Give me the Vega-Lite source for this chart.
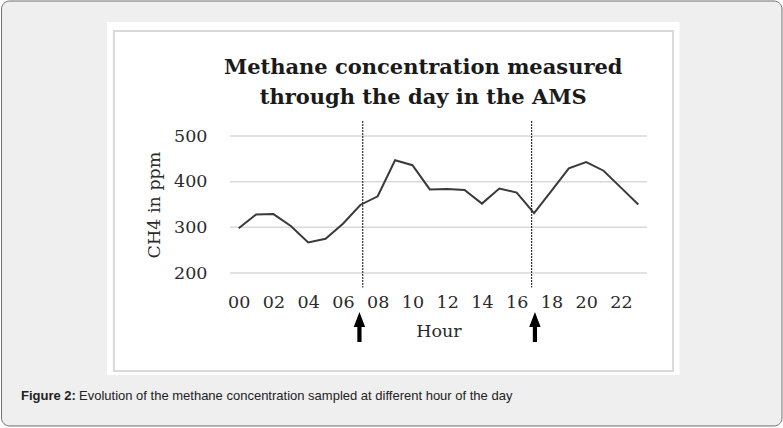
{
  "$schema": "https://vega.github.io/schema/vega-lite/v6.json",
  "description": "Methane concentration measured through the day in the AMS",
  "width": 417,
  "height": 137,
  "autosize": {"type": "none"},
  "padding": {"left": 230, "top": 136, "right": 136, "bottom": 155},
  "background": "white",
  "config": {
    "view": {"stroke": null},
    "axis": {
      "labelOverlap": false, "labelFlush": false,
      "domain": false, "ticks": false, "grid": false,
      "labelFont": "DejaVu Serif", "labelFontSize": 17.5, "labelColor": "#2a2a2a",
      "titleFont": "DejaVu Serif", "titleFontSize": 17.5, "titleFontWeight": "normal", "titleColor": "#2a2a2a"
    },
    "axisX": {"labelPadding": 20, "titlePadding": 12},
    "axisY": {"labelPadding": 23, "titlePadding": 10}
  },
  "datasets": {
    "ch4": [
      {"hour": 0, "ppm": 298}, {"hour": 1, "ppm": 328}, {"hour": 2, "ppm": 329},
      {"hour": 3, "ppm": 303}, {"hour": 4, "ppm": 267}, {"hour": 5, "ppm": 275},
      {"hour": 6, "ppm": 308}, {"hour": 7, "ppm": 349}, {"hour": 8, "ppm": 368},
      {"hour": 9, "ppm": 447}, {"hour": 10, "ppm": 436}, {"hour": 11, "ppm": 383},
      {"hour": 12, "ppm": 384}, {"hour": 13, "ppm": 382}, {"hour": 14, "ppm": 352},
      {"hour": 15, "ppm": 385}, {"hour": 16, "ppm": 376}, {"hour": 17, "ppm": 331},
      {"hour": 18, "ppm": 380}, {"hour": 19, "ppm": 429}, {"hour": 20, "ppm": 443},
      {"hour": 21, "ppm": 424}, {"hour": 22, "ppm": 387}, {"hour": 23, "ppm": 350}
    ],
    "grid": [{"ppm": 200}, {"ppm": 300}, {"ppm": 400}, {"ppm": 500}],
    "events": [
      {"line": 7.14, "arrow": 6.95},
      {"line": 16.86, "arrow": 17.05}
    ]
  },
  "layer": [
    {
      "data": {"values": [{}]},
      "mark": {"type": "rect", "fill": "#efefef", "stroke": "#707070", "strokeWidth": 1, "cornerRadius": 8},
      "encoding": {
        "x": {"datum": -13.65, "type": "quantitative"},
        "x2": {"datum": 31.27},
        "y": {"datum": 795.6, "type": "quantitative"},
        "y2": {"datum": -135}
      }
    },
    {
      "data": {"values": [{}]},
      "mark": {"type": "rect", "fill": "white"},
      "encoding": {
        "x": {"datum": -7.58, "type": "quantitative"},
        "x2": {"datum": 25.37},
        "y": {"datum": 749.6, "type": "quantitative"},
        "y2": {"datum": -23.4}
      }
    },
    {
      "data": {"values": [{}]},
      "mark": {"type": "rect", "fill": "white", "fillOpacity": 0, "stroke": "#d9d9d9", "strokeWidth": 2},
      "encoding": {
        "x": {"datum": -7.18, "type": "quantitative"},
        "x2": {"datum": 25.0},
        "y": {"datum": 729.9, "type": "quantitative"},
        "y2": {"datum": -14.6}
      }
    },
    {
      "data": {"name": "grid"},
      "mark": {"type": "rule", "stroke": "#d9d9d9", "strokeWidth": 1.5},
      "encoding": {
        "x": {"datum": -0.5, "type": "quantitative"},
        "x2": {"datum": 23.5},
        "y": {"field": "ppm", "type": "quantitative"}
      }
    },
    {
      "data": {"name": "ch4"},
      "mark": {"type": "line", "stroke": "#3a3a3a", "strokeWidth": 2},
      "encoding": {
        "x": {
          "field": "hour", "type": "quantitative",
          "scale": {"domain": [-0.5, 23.5], "nice": false, "zero": false},
          "axis": {
            "title": "Hour", "values": [0, 2, 4, 6, 8, 10, 12, 14, 16, 18, 20, 22],
            "labelExpr": "datum.value < 10 ? '0' + datum.value : '' + datum.value",
            "labelOverlap": false, "labelSeparation": 0, "tickCount": 12, "zindex": 1
          }
        },
        "y": {
          "field": "ppm", "type": "quantitative",
          "scale": {"domain": [200, 500], "nice": false, "zero": false},
          "axis": {"title": "CH4 in ppm", "values": [200, 300, 400, 500], "labelOverlap": false, "zindex": 1}
        }
      }
    },
    {
      "data": {"name": "events"},
      "mark": {"type": "rule", "stroke": "#222222", "strokeWidth": 1.1, "strokeDash": [2, 1]},
      "encoding": {
        "x": {"field": "line", "type": "quantitative"},
        "y": {"datum": 533, "type": "quantitative"},
        "y2": {"datum": 168}
      }
    },
    {
      "data": {"name": "events"},
      "mark": {
        "type": "point", "filled": true, "opacity": 1, "color": "black", "size": 900,
        "shape": "M0,-1L0.38,0L0.14,0L0.14,1L-0.14,1L-0.14,0L-0.38,0Z"
      },
      "encoding": {
        "x": {"field": "arrow", "type": "quantitative"},
        "y": {"datum": 81.8, "type": "quantitative"}
      }
    },
    {
      "data": {"values": [{}]},
      "mark": {
        "type": "text", "text": ["Methane concentration measured", "through the day in the AMS"],
        "align": "center", "baseline": "alphabetic", "lineHeight": 29.5,
        "font": "DejaVu Serif", "fontSize": 21, "fontWeight": "bold", "color": "#1a1a1a"
      },
      "encoding": {
        "x": {"datum": 10.62, "type": "quantitative"},
        "y": {"datum": 635.1, "type": "quantitative"}
      }
    },
    {
      "data": {"values": [{}]},
      "mark": {"type": "text", "text": "Figure 2:", "align": "left", "baseline": "alphabetic", "font": "Liberation Sans", "fontSize": 13, "fontWeight": "bold", "color": "#222222"},
      "encoding": {
        "x": {"datum": -12.53, "type": "quantitative"},
        "y": {"datum": -78.1, "type": "quantitative"}
      }
    },
    {
      "data": {"values": [{}]},
      "mark": {"type": "text", "text": "Evolution of the methane concentration sampled at different hour of the day", "align": "left", "baseline": "alphabetic", "font": "Liberation Sans", "fontSize": 13, "color": "#222222"},
      "encoding": {
        "x": {"datum": -9.19, "type": "quantitative"},
        "y": {"datum": -78.1, "type": "quantitative"}
      }
    }
  ]
}
